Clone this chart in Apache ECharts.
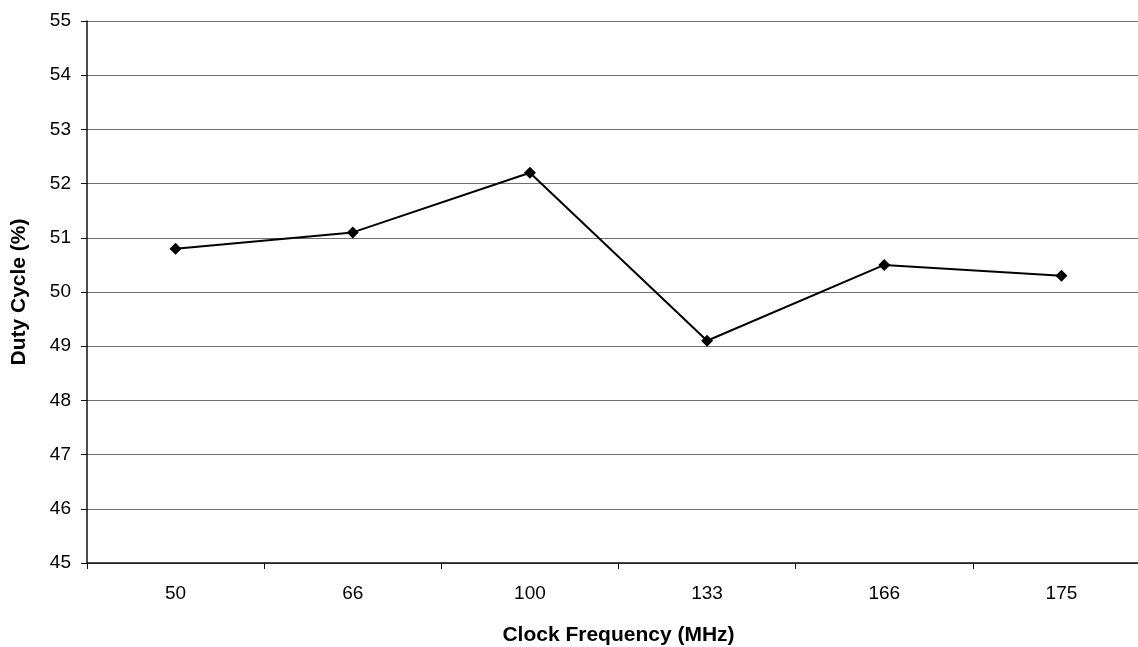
<!DOCTYPE html>
<html>
<head>
<meta charset="utf-8">
<script src="https://cdn.jsdelivr.net/npm/echarts@6/dist/echarts.min.js"></script>
<style>
html,body{margin:0;padding:0;background:#fff;}
#chart{width:1138px;height:647px;}
</style>
</head>
<body>
<div id="chart"></div>
<script>
var categories = ['50', '66', '100', '133', '166', '175'];
var dutyCycle = [50.8, 51.1, 52.2, 49.1, 50.5, 50.3];
var yMin = 45, yMax = 55, yStep = 1;

var chart = echarts.init(document.getElementById('chart'));
var font = '"Liberation Sans", Arial, sans-serif';
chart.setOption({
  animation: false,
  backgroundColor: '#fff',
  grid: { left: 87, width: 1063, top: 21, height: 542, containLabel: false, outerBoundsMode: 'none' },
  xAxis: {
    type: 'category',
    data: categories,
    boundaryGap: true,
    name: 'Clock Frequency (MHz)',
    nameLocation: 'middle',
    nameGap: 62,
    nameTextStyle: { fontFamily: font, fontSize: 21, fontWeight: 'bold', color: '#000' },
    axisLine: { lineStyle: { color: '#111', width: 1.5 } },
    axisTick: { show: true, alignWithLabel: false, length: 6, lineStyle: { color: '#111' } },
    axisLabel: { fontFamily: font, fontSize: 19, color: '#000', margin: 21 },
    splitLine: { show: false }
  },
  yAxis: {
    type: 'value',
    min: yMin, max: yMax, interval: yStep,
    name: 'Duty Cycle (%)',
    nameLocation: 'middle',
    nameGap: 57,
    nameRotate: 90,
    nameTextStyle: { fontFamily: font, fontSize: 21, fontWeight: 'bold', color: '#000' },
    axisLine: { show: true, lineStyle: { color: '#111', width: 1.5 } },
    axisTick: { show: true, length: 6, lineStyle: { color: '#111' } },
    axisLabel: { fontFamily: font, fontSize: 19, color: '#000', margin: 16 },
    splitLine: { show: true, lineStyle: { color: '#6e6e6e', width: 1.2 } }
  },
  series: [{
    type: 'line',
    data: dutyCycle,
    symbol: 'diamond',
    symbolSize: 12,
    lineStyle: { color: '#000', width: 2 },
    itemStyle: { color: '#000' }
  }]
});
</script>
</body>
</html>
